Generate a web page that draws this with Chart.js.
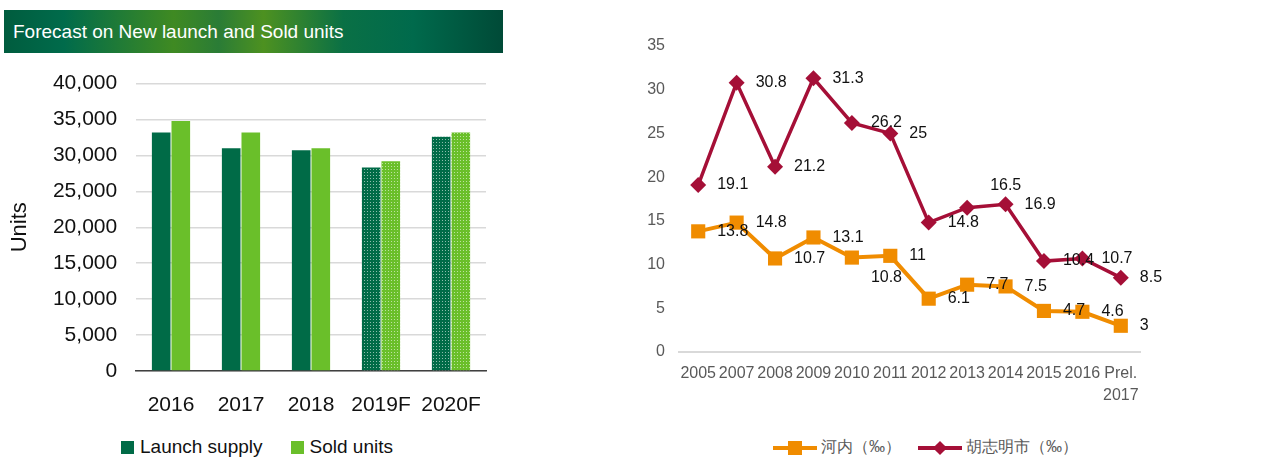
<!DOCTYPE html>
<html>
<head>
<meta charset="utf-8">
<script src="https://cdn.jsdelivr.net/npm/chart.js@4"></script>
<style>
  body { margin: 0; width: 1284px; height: 460px; overflow: hidden; background: #fff; position: relative; font-family: "Liberation Sans", Arial, sans-serif; }
  #banner { position: absolute; left: 4px; top: 10px; width: 499px; height: 43px; color: #fff; font-size: 19px; line-height: 43px; padding-left: 9px; box-sizing: border-box;
    background: linear-gradient(90deg, #005c3e 0%, #006b4b 12%, #3f8a22 34%, #2a7c36 43%, #4d9120 52%, #0a7045 68%, #006a4c 82%, #004a37 100%); }
  #left { position: absolute; left: 0; top: 60px; }
  #right { position: absolute; left: 640px; top: 0; }
  .lg { position: absolute; display: flex; align-items: center; white-space: nowrap; }
  .sq { display: inline-block; width: 13px; height: 13px; margin-right: 6px; }
  #legLeft { left: 121px; top: 436px; font-size: 19px; color: #111; }
  #legRight { left: 773px; top: 437px; font-size: 16px; color: #595959; }
  .mk { display: inline-block; position: relative; width: 44px; height: 14px; margin-right: 4px; }
  .mk .ln { position: absolute; left: 0; right: 0; top: 5px; height: 4px; }
</style>
</head>
<body>
<div id="banner">Forecast on New launch and Sold units</div>
<canvas id="left" width="640" height="357"></canvas>
<canvas id="right" width="644" height="400"></canvas>

<div id="legLeft" class="lg">
  <span class="sq" style="background:#006b47"></span><span>Launch supply</span>
  <span class="sq" style="background:#6abf2a; margin-left:28px"></span><span>Sold units</span>
</div>
<div id="legRight" class="lg">
  <span class="mk"><span class="ln" style="background:#f08c00"></span><span style="position:absolute;left:15px;top:0;width:14px;height:14px;background:#f08c00"></span></span><span>河内（‰）</span>
  <span class="mk" style="margin-left:17px"><span class="ln" style="background:#a50f37"></span><span style="position:absolute;left:17px;top:2px;width:10px;height:10px;background:#a50f37;transform:rotate(45deg)"></span></span><span>胡志明市（‰）</span>
</div>

<script>
// left chart data
var years = ['2016', '2017', '2018', '2019F', '2020F'];
var launchSupply = [33200, 31000, 30700, 28300, 32600];
var soldUnits = [34800, 33200, 31000, 29200, 33200];

// right chart data
var periods = ['2005', '2007', '2008', '2009', '2010', '2011', '2012', '2013', '2014', '2015', '2016', ['Prel.', '2017']];
var hanoi = [13.8, 14.8, 10.7, 13.1, 10.8, 11, 6.1, 7.7, 7.5, 4.7, 4.6, 3];
var hcmc = [19.1, 30.8, 21.2, 31.3, 26.2, 25, 14.8, 16.5, 16.9, 10.4, 10.7, 8.5];

var darkGreen = '#006b47';
var lightGreen = '#6abf2a';

// dotted fill for forecast bars
function dotted(base) {
    var c = document.createElement('canvas');
    c.width = 3; c.height = 3;
    var g = c.getContext('2d');
    g.fillStyle = base;
    g.fillRect(0, 0, 3, 3);
    g.fillStyle = 'rgba(255,255,255,0.55)';
    g.fillRect(1, 1, 1, 1);
    return g.createPattern(c, 'repeat');
}

function fills(base) {
    var pat = dotted(base);
    return years.map(y => y.indexOf('F') > -1 ? pat : base);
}

Chart.defaults.font.family = '"Liberation Sans", Arial, sans-serif';

new Chart(document.getElementById('left'), {
    type: 'bar',
    data: {
        labels: years,
        datasets: [
            { label: 'Launch supply', data: launchSupply, backgroundColor: fills(darkGreen) },
            { label: 'Sold units', data: soldUnits, backgroundColor: fills(lightGreen) }
        ]
    },
    options: {
        responsive: false,
        animation: false,
        layout: { padding: { top: 16, right: 154 } },
        datasets: { bar: { categoryPercentage: 0.56, barPercentage: 0.95 } },
        plugins: { legend: { display: false }, tooltip: { enabled: false } },
        scales: {
            x: {
                grid: { display: false },
                border: { color: '#404040', width: 1.5 },
                ticks: { color: '#111', font: { size: 21 }, padding: 14 },
                afterFit: function(s) { s.height = 46; }
            },
            y: {
                min: 0, max: 40000,
                ticks: { stepSize: 5000, color: '#111', font: { size: 21, lineHeight: 1 }, padding: 13,
                    callback: v => v.toLocaleString('en-US') + ' ' },
                grid: { color: '#d9d9d9', lineWidth: 1.5, drawTicks: false },
                border: { display: false },
                title: { display: true, text: 'Units', color: '#111', font: { size: 22 }, padding: { top: 7, bottom: 0 } },
                afterFit: function(s) { s.width = 136; }
            }
        }
    }
});

// value labels next to each point
var pointLabels = {
    id: 'pointLabels',
    afterDatasetsDraw: function(chart) {
        var ctx = chart.ctx;
        ctx.save();
        ctx.font = '16px "Liberation Sans", Arial, sans-serif';
        ctx.fillStyle = '#111';
        ctx.textAlign = 'left';
        ctx.textBaseline = 'middle';
        chart.data.datasets.forEach(function(ds, i) {
            chart.getDatasetMeta(i).data.forEach(function(pt, j) {
                var off = (ds.labelOffsets && ds.labelOffsets[j]) || [0, 0];
                ctx.fillText(String(ds.data[j]), pt.x + 19 + off[0], pt.y + off[1]);
            });
        });
        ctx.restore();
    }
};

new Chart(document.getElementById('right'), {
    type: 'line',
    data: {
        labels: periods,
        datasets: [
            { label: '河内（‰）', data: hanoi, borderColor: '#f08c00', backgroundColor: '#f08c00', borderWidth: 4,
              pointStyle: 'rect', pointRadius: 10, pointBorderWidth: 0,
              labelOffsets: { 4: [0, 20] } },
            { label: '胡志明市（‰）', data: hcmc, borderColor: '#a50f37', backgroundColor: '#a50f37', borderWidth: 3.5,
              pointStyle: 'rectRot', pointRadius: 8, pointBorderWidth: 0,
              labelOffsets: { 7: [4, -22] } }
        ]
    },
    plugins: [pointLabels],
    options: {
        responsive: false,
        animation: false,
        layout: { padding: { top: 46, right: 144 } },
        plugins: { legend: { display: false }, tooltip: { enabled: false } },
        scales: {
            x: {
                offset: true,
                grid: { display: false, drawTicks: false, offset: true },
                border: { color: '#d9d9d9', width: 2 },
                ticks: { color: '#595959', font: { size: 16, lineHeight: 1.4 }, padding: 10, maxRotation: 0, autoSkip: false },
                afterFit: function(s) { s.height = 48; }
            },
            y: {
                min: 0, max: 35,
                ticks: { stepSize: 5, color: '#595959', font: { size: 16 }, padding: 14 },
                grid: { display: false, drawTicks: false },
                border: { display: false },
                afterFit: function(s) { s.width = 39; }
            }
        }
    }
});
</script>
</body>
</html>
